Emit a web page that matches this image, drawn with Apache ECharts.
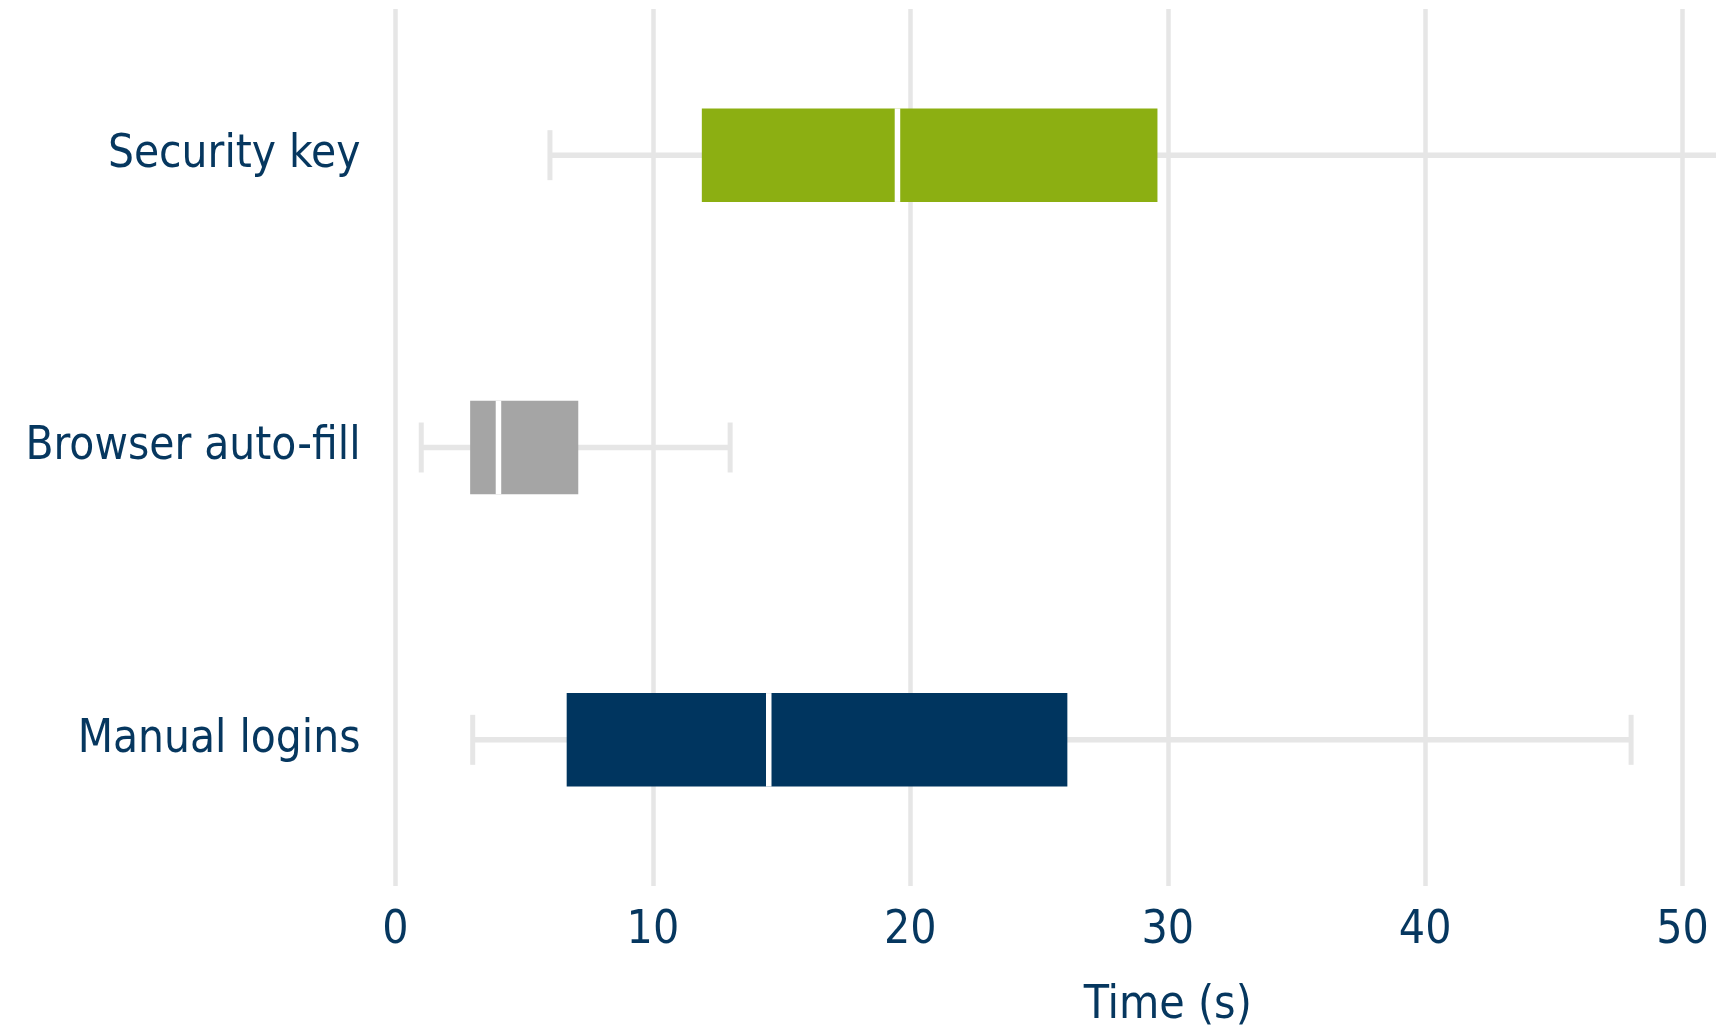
<!DOCTYPE html>
<html>
<head>
<meta charset="utf-8">
<script src="https://cdn.jsdelivr.net/npm/echarts@6/dist/echarts.min.js"></script>
<style>
html,body{margin:0;padding:0;background:#fff;}
#chart{width:1716px;height:1031px;}
</style>
</head>
<body>
<div id="chart"></div>
<script>
const categories = ['Manual logins', 'Browser auto-fill', 'Security key'];
const whiskerLow = [3.0, 1.0, 6.0];
const q1 = [6.65, 2.9, 11.9];
const median = [14.5, 4.0, 19.5];
const q3 = [26.1, 7.1, 29.6];
const whiskerHigh = [48.0, 13.0, 56.0];
const xTicks = [0, 10, 20, 30, 40, 50, 60];

const boxColors = ['#00355F', '#A5A5A5', '#8CAF12'];
const textColor = '#06375F';
const fontFamily = '"DejaVu Sans Condensed", "DejaVu Sans", sans-serif';

const rows = categories.map((c, i) => [i, whiskerLow[i], q1[i], median[i], q3[i], whiskerHigh[i]]);

const chart = echarts.init(document.getElementById('chart'));
chart.setOption({
  animation: false,
  backgroundColor: '#ffffff',
  grid: { left: 395.5, right: -224, top: 9, bottom: 145, containLabel: false, outerBoundsMode: 'none' },
  xAxis: {
    type: 'value',
    min: xTicks[0],
    max: xTicks[xTicks.length - 1],
    interval: 10,
    name: 'Time (s)',
    nameLocation: 'middle',
    nameGap: 97,
    nameTextStyle: { color: textColor, fontSize: 46, fontFamily: fontFamily, verticalAlign: 'top' },
    axisLine: { show: false },
    axisTick: { show: false },
    axisLabel: { color: textColor, fontSize: 46, fontFamily: fontFamily, margin: 22 },
    splitLine: { show: true, lineStyle: { color: '#E6E6E6', width: 4.5 } }
  },
  yAxis: {
    type: 'category',
    data: categories,
    axisLine: { show: false },
    axisTick: { show: false },
    splitLine: { show: false },
    axisLabel: { color: textColor, fontSize: 45.5, fontFamily: fontFamily, margin: 35, padding: [8, 0, 0, 0] }
  },
  series: [{
    type: 'custom',
    clip: true,
    data: rows,
    encode: { y: 0, x: [1, 2, 3, 4, 5] },
    renderItem: function (params, api) {
      const idx = api.value(0);
      const pLow = api.coord([api.value(1), idx]);
      const pQ1 = api.coord([api.value(2), idx]);
      const pMed = api.coord([api.value(3), idx]);
      const pQ3 = api.coord([api.value(4), idx]);
      const pHigh = api.coord([api.value(5), idx]);
      const band = api.size([0, 1])[1];
      const cy = pLow[1];
      const hb = band * 0.16;
      const capH = 25;
      const grey = '#E6E6E6';
      return {
        type: 'group',
        children: [
          { type: 'line', shape: { x1: pLow[0], y1: cy, x2: pHigh[0], y2: cy }, style: { stroke: grey, lineWidth: 5.5 } },
          { type: 'line', shape: { x1: pLow[0], y1: cy - capH, x2: pLow[0], y2: cy + capH }, style: { stroke: grey, lineWidth: 5 } },
          { type: 'line', shape: { x1: pHigh[0], y1: cy - capH, x2: pHigh[0], y2: cy + capH }, style: { stroke: grey, lineWidth: 5 } },
          { type: 'rect', shape: { x: pQ1[0], y: cy - hb, width: pQ3[0] - pQ1[0], height: 2 * hb }, style: { fill: boxColors[idx] } },
          { type: 'line', shape: { x1: pMed[0], y1: cy - hb, x2: pMed[0], y2: cy + hb }, style: { stroke: '#ffffff', lineWidth: 5.5 } }
        ]
      };
    }
  }]
});
</script>
</body>
</html>
